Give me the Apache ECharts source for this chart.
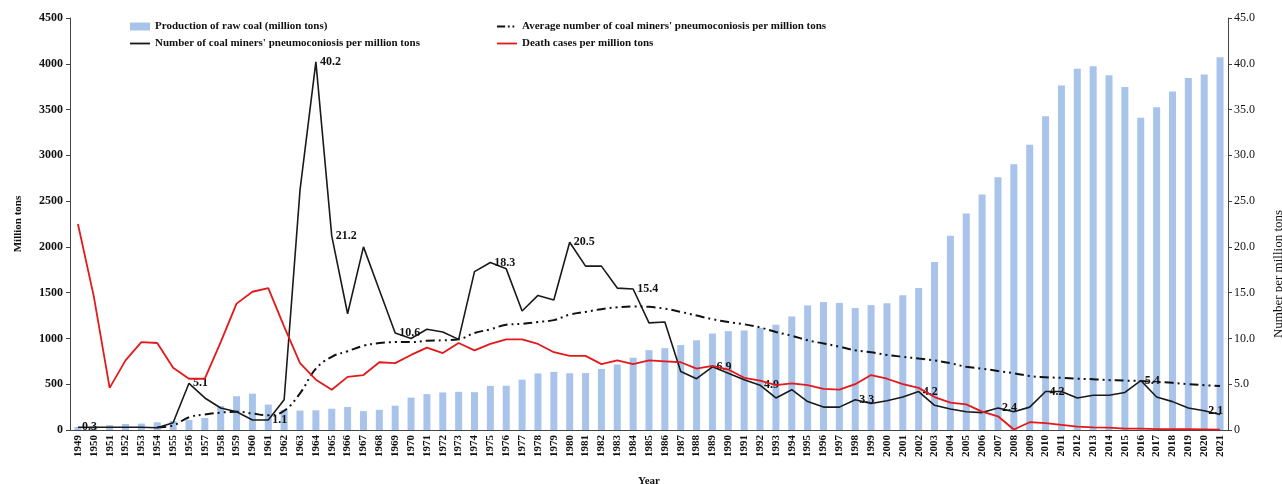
<!DOCTYPE html>
<html>
<head>
<meta charset="utf-8">
<script src="https://cdn.jsdelivr.net/npm/echarts@6/dist/echarts.min.js"></script>
<style>
  html, body { margin: 0; padding: 0; background: #ffffff; }
  #chart { width: 1282px; height: 484px; }
</style>
</head>
<body>
<div id="chart"></div>
<script>
// Years on the category axis
const years = [
  '1949','1950','1951','1952','1953','1954','1955','1956','1957','1958',
  '1959','1960','1961','1962','1963','1964','1965','1966','1967','1968',
  '1969','1970','1971','1972','1973','1974','1975','1976','1977','1978',
  '1979','1980','1981','1982','1983','1984','1985','1986','1987','1988',
  '1989','1990','1991','1992','1993','1994','1995','1996','1997','1998',
  '1999','2000','2001','2002','2003','2004','2005','2006','2007','2008',
  '2009','2010','2011','2012','2013','2014','2015','2016','2017','2018',
  '2019','2020','2021'
];

// Production of raw coal (million tons)
const production = [
  32, 43, 53, 66, 70, 84, 98, 110, 131, 262,
  369, 397, 278, 220, 212, 215, 232, 252, 206, 220,
  266, 354, 392, 410, 417, 413, 482, 483, 550, 618,
  635, 620, 622, 666, 715, 789, 872, 894, 928, 980,
  1054, 1080, 1087, 1116, 1150, 1240, 1361, 1397, 1388, 1332,
  1364, 1384, 1472, 1550, 1835, 2123, 2365, 2571, 2760, 2903,
  3115, 3428, 3764, 3945, 3974, 3874, 3747, 3411, 3524, 3698,
  3846, 3882, 4071
];

// Number of coal miners' pneumoconiosis per million tons
const pneumo = [
  0.3, 0.3, 0.3, 0.3, 0.3, 0.25, 0.8, 5.1, 3.5, 2.4,
  2.0, 1.1, 1.1, 3.3, 26.2, 40.2, 21.2, 12.7, 20.0, 15.3,
  10.6, 10.0, 11.0, 10.7, 9.9, 17.3, 18.3, 17.6, 13.0, 14.7,
  14.2, 20.5, 17.9, 17.9, 15.5, 15.4, 11.7, 11.8, 6.4, 5.6,
  6.9, 6.2, 5.5, 4.9, 3.5, 4.4, 3.1, 2.5, 2.5, 3.3,
  2.9, 3.2, 3.6, 4.2, 2.7, 2.3, 2.0, 1.9, 2.4, 2.0,
  2.5, 4.2, 4.2, 3.5, 3.8, 3.8, 4.1, 5.4, 3.6, 3.1,
  2.4, 2.1, 1.7
];

// Average number of coal miners' pneumoconiosis per million tons
const pneumoAvg = [
  null, null, null, null, null, 0.3, 0.5, 1.4, 1.7, 1.9,
  2.0, 1.8, 1.6, 2.1, 4.0, 6.7, 8.0, 8.6, 9.2, 9.5,
  9.6, 9.6, 9.75, 9.8, 9.9, 10.6, 11.0, 11.5, 11.6, 11.8,
  12.0, 12.6, 12.9, 13.2, 13.4, 13.5, 13.45, 13.25, 12.9, 12.5,
  12.1, 11.8, 11.55, 11.2, 10.7, 10.3, 9.8, 9.45, 9.1, 8.7,
  8.5, 8.2, 8.0, 7.8, 7.6, 7.3, 6.9, 6.7, 6.45, 6.2,
  5.9, 5.75, 5.7, 5.6, 5.55, 5.45, 5.4, 5.35, 5.25, 5.15,
  5.0, 4.9, 4.8
];

// Death cases per million tons
const deaths = [
  22.5, 14.6, 4.6, 7.6, 9.6, 9.5, 6.8, 5.6, 5.6, 9.6,
  13.8, 15.1, 15.5, 11.3, 7.3, 5.5, 4.4, 5.8, 6.0, 7.4,
  7.3, 8.2, 9.0, 8.4, 9.5, 8.7, 9.4, 9.9, 9.9, 9.4,
  8.5, 8.1, 8.1, 7.2, 7.6, 7.2, 7.6, 7.5, 7.4, 6.7,
  7.0, 6.6, 5.7, 5.4, 4.9, 5.1, 4.9, 4.5, 4.4, 5.0,
  6.0, 5.6, 5.0, 4.6, 3.6, 3.0, 2.8, 2.0, 1.5, 0.05,
  0.85, 0.75, 0.56, 0.37, 0.29, 0.26, 0.16, 0.16, 0.1, 0.09,
  0.08, 0.06, 0.04
];

// Years whose pneumoconiosis value is printed next to the point
const labelledYears = [
  '1949','1956','1961','1964','1965','1969','1975','1980','1984',
  '1989','1992','1998','2002','2007','2010','2016','2020'
];

const serif = 'Liberation Serif';

const pneumoData = pneumo.map((v, i) => {
  if (labelledYears.indexOf(years[i]) >= 0) {
    return { value: v, label: { show: true } };
  }
  return v;
});

// Legend glyphs: plain line and dash-dot-dot line
const lineIcon = 'path://M0,0h22v2h-22z';
const dashDotIcon = 'path://M0,0h9v2h-9z M12,0h2v2h-2z M17,0h2v2h-2z M22,0h0.01v2h-0.01z';

const chart = echarts.init(document.getElementById('chart'), null, { renderer: 'canvas' });

const legendText = { fontFamily: serif, fontWeight: 'bold', fontSize: 11, color: '#111' };

chart.setOption({
  animation: false,
  backgroundColor: '#ffffff',
  grid: {
    left: 70, right: 54, top: 18, bottom: 54,
    containLabel: false,
    outerBoundsMode: 'none'
  },
  legend: [
    {
      orient: 'vertical', left: 125, top: 16, itemGap: 6,
      itemWidth: 20, itemHeight: 8, textStyle: legendText,
      data: [
        { name: 'Production of raw coal (million tons)', icon: 'rect' },
        { name: "Number of coal miners' pneumoconiosis per million tons", icon: lineIcon }
      ]
    },
    {
      orient: 'vertical', left: 492, top: 16, itemGap: 6,
      itemWidth: 20, itemHeight: 8, textStyle: legendText,
      data: [
        { name: "Average number of coal miners' pneumoconiosis per million tons", icon: dashDotIcon },
        { name: 'Death cases per million tons', icon: lineIcon }
      ]
    }
  ],
  xAxis: {
    type: 'category',
    data: years,
    boundaryGap: true,
    name: 'Year',
    nameLocation: 'middle',
    nameGap: 46,
    nameTextStyle: { fontFamily: serif, fontWeight: 'bold', fontSize: 11, color: '#111' },
    axisLine: { show: true, lineStyle: { color: '#444', width: 1 } },
    axisTick: { show: false },
    axisLabel: {
      interval: 0, rotate: 90, margin: 5,
      fontFamily: serif, fontWeight: 'bold', fontSize: 11, color: '#111'
    },
    splitLine: { show: false }
  },
  yAxis: [
    {
      type: 'value',
      min: 0, max: 4500, interval: 500,
      name: 'Million tons',
      nameLocation: 'middle',
      nameGap: 46,
      nameRotate: 90,
      nameTextStyle: { fontFamily: serif, fontWeight: 'bold', fontSize: 11, color: '#111' },
      axisLine: { show: true, lineStyle: { color: '#444', width: 1 } },
      axisTick: { show: true, length: 4, lineStyle: { color: '#444' } },
      axisLabel: {
        fontFamily: serif, fontWeight: 'bold', fontSize: 12, color: '#111', margin: 7,
        formatter: v => String(v)
      },
      splitLine: { show: false }
    },
    {
      type: 'value',
      min: 0, max: 45, interval: 5,
      position: 'right',
      name: 'Number per million tons',
      nameLocation: 'middle',
      nameGap: 44,
      nameRotate: 90,
      nameTextStyle: {
        fontFamily: serif, fontSize: 13, color: '#111',
        padding: [0, 100, 0, 0]
      },
      axisLine: { show: true, lineStyle: { color: '#444', width: 1 } },
      axisTick: { show: true, length: 4, lineStyle: { color: '#444' } },
      axisLabel: {
        fontFamily: serif, fontSize: 12, color: '#111', margin: 6,
        formatter: v => (v === 0 ? '0' : v.toFixed(1))
      },
      splitLine: { show: false }
    }
  ],
  series: [
    {
      name: 'Production of raw coal (million tons)',
      type: 'bar',
      yAxisIndex: 0,
      data: production,
      barWidth: 7,
      itemStyle: { color: '#A9C4EA' },
      z: 1
    },
    {
      name: "Number of coal miners' pneumoconiosis per million tons",
      type: 'line',
      yAxisIndex: 1,
      data: pneumoData,
      symbol: 'circle',
      symbolSize: 0,
      showSymbol: true,
      lineStyle: { color: '#1a1a1a', width: 1.6 },
      itemStyle: { color: '#1a1a1a' },
      label: {
        show: false,
        position: 'right',
        distance: 4,
        fontFamily: serif, fontWeight: 'bold', fontSize: 12, color: '#111'
      },
      z: 4
    },
    {
      name: "Average number of coal miners' pneumoconiosis per million tons",
      type: 'line',
      yAxisIndex: 1,
      data: pneumoAvg,
      smooth: 0.4,
      symbol: 'none',
      connectNulls: false,
      lineStyle: { color: '#111', width: 2, type: [9, 4, 2, 4, 2, 4] },
      itemStyle: { color: '#111' },
      z: 3
    },
    {
      name: 'Death cases per million tons',
      type: 'line',
      yAxisIndex: 1,
      data: deaths,
      symbol: 'none',
      lineStyle: { color: '#E3191C', width: 1.8 },
      itemStyle: { color: '#E3191C' },
      z: 5
    }
  ]
});
</script>
</body>
</html>
